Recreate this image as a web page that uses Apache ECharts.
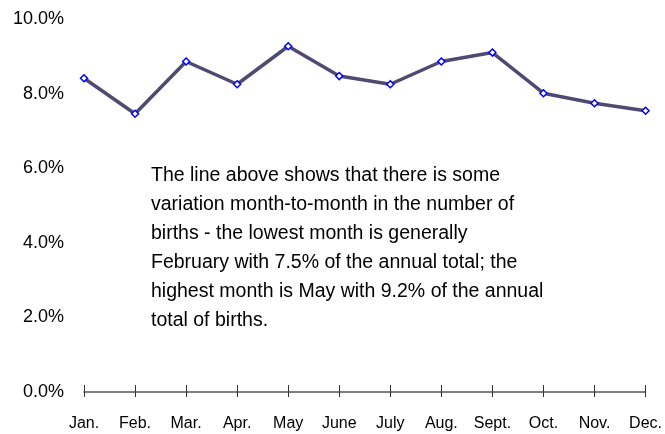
<!DOCTYPE html>
<html>
<head>
<meta charset="utf-8">
<script src="https://cdn.jsdelivr.net/npm/echarts@6/dist/echarts.min.js"></script>
<style>
	html, body { margin: 0; padding: 0; background: #fff; }
	#chart { width: 665px; height: 434px; }
</style>
</head>
<body>
<div id="chart"></div>
<script>
// month labels on the x axis
var months = ['Jan.', 'Feb.', 'Mar.', 'Apr.', 'May', 'June', 'July', 'Aug.', 'Sept.', 'Oct.', 'Nov.', 'Dec.'];
// share of annual births, percent
var birthShare = [8.41, 7.46, 8.86, 8.25, 9.27, 8.47, 8.25, 8.86, 9.10, 8.01, 7.74, 7.54];
var yMin = 0, yMax = 10, yStep = 2;

var note = [
	'The line above shows that there is some',
	'variation month-to-month in the number of',
	'births - the lowest month is generally',
	'February with 7.5% of the annual total; the',
	'highest month is May with 9.2% of the annual',
	'total of births.'
];

var font = '"Liberation Sans", Arial, sans-serif';
var chart = echarts.init(document.getElementById('chart'));

chart.setOption({
	animation: false,
	grid: { left: 84, right: 19, top: 19, bottom: 42 },
	xAxis: [{
		type: 'category',
		data: months,
		boundaryGap: false,
		axisLine: { lineStyle: { color: '#555', width: 1.5 } },
		axisTick: { show: true, length: 5, alignWithLabel: true, lineStyle: { color: '#333' } },
		axisLabel: { color: '#000', fontSize: 16, fontFamily: font, margin: 24, interval: 0 }
	}, {
		// second axis only to draw the part of each tick above the line
		type: 'category',
		data: months,
		boundaryGap: false,
		position: 'bottom',
		axisLine: { show: false },
		axisTick: { show: true, inside: true, length: 7, lineStyle: { color: '#333' } },
		axisLabel: { show: false }
	}],
	yAxis: {
		type: 'value',
		min: yMin,
		max: yMax,
		interval: yStep,
		axisLine: { show: false },
		axisTick: { show: false },
		splitLine: { show: false },
		axisLabel: {
			color: '#000', fontSize: 18, fontFamily: font, margin: 20,
			formatter: function(v){ return v.toFixed(1) + '%'; }
		}
	},
	graphic: [{
		type: 'text',
		left: 151,
		top: 161,
		style: {
			text: note.join('\n'),
			font: '19.5px ' + font,
			lineHeight: 29,
			fill: '#000'
		}
	}],
	series: [{
		type: 'line',
		data: birthShare,
		symbol: 'diamond',
		symbolSize: 7,
		lineStyle: { color: '#4f4a72', width: 3.5 },
		itemStyle: { color: '#fff', borderColor: '#0000ff', borderWidth: 1.5 },
		z: 3
	}]
});
</script>
</body>
</html>
